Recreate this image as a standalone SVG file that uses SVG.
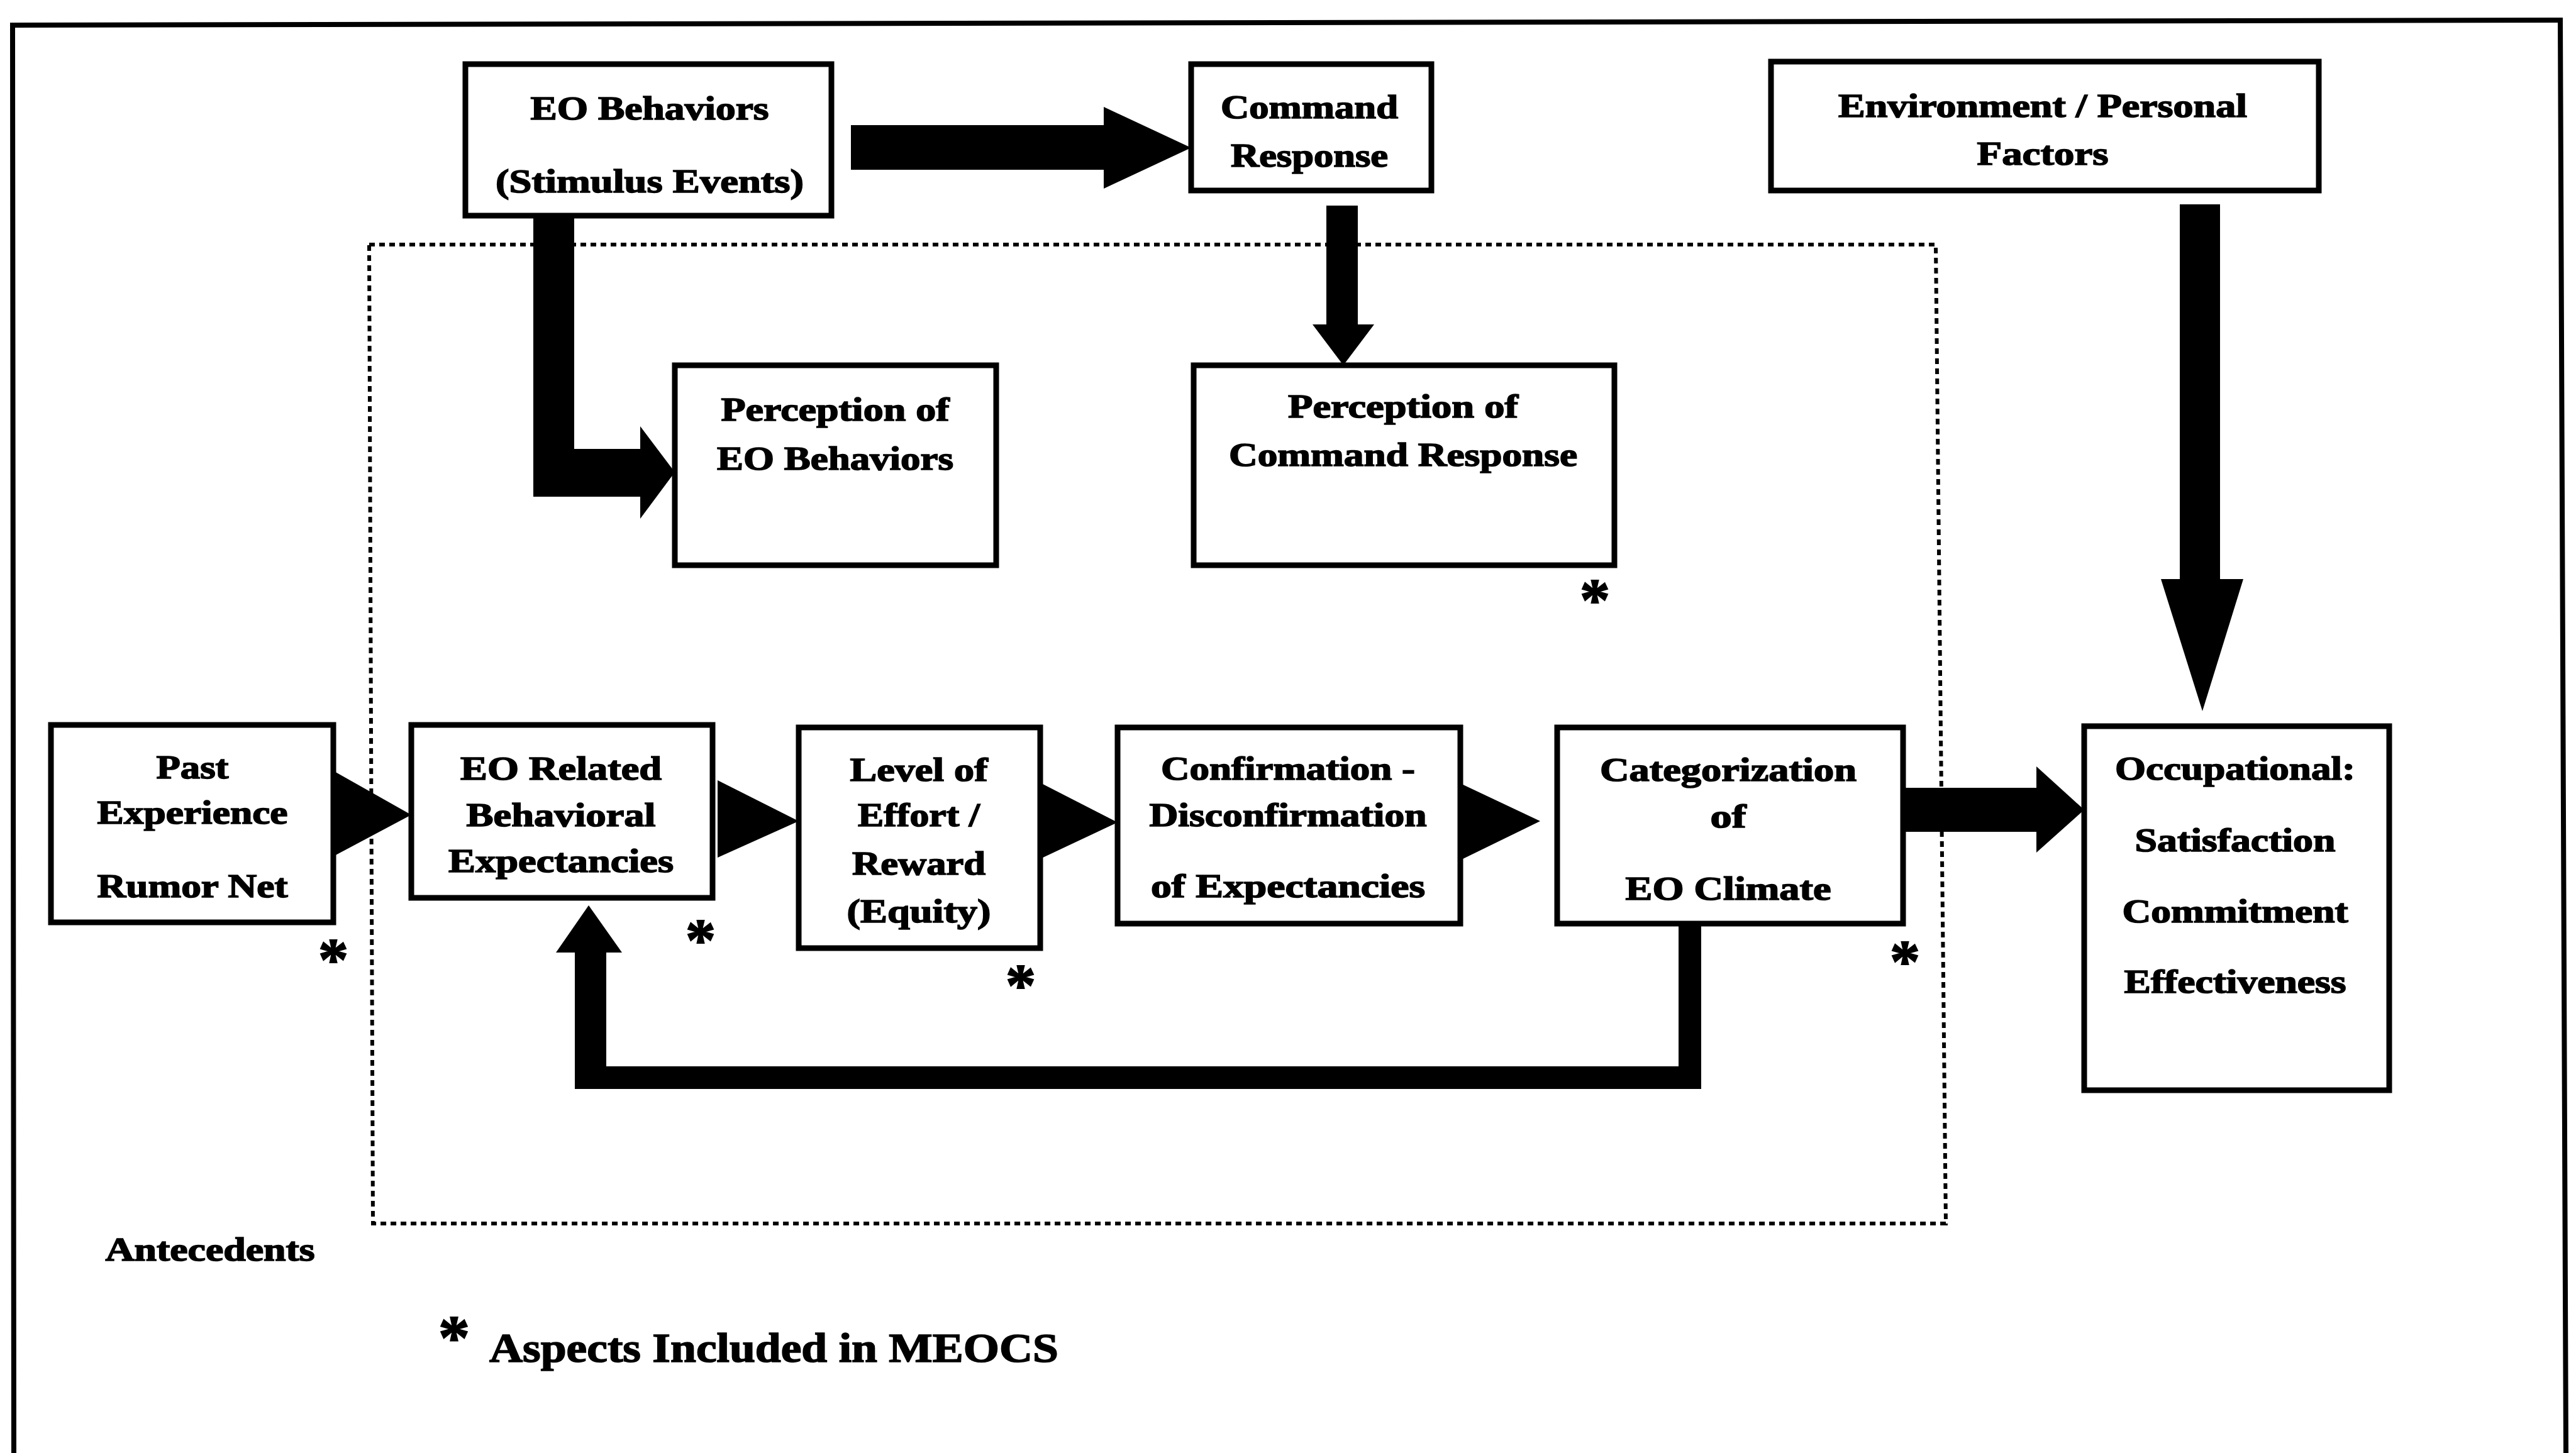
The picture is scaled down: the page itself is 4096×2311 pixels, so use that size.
<svg xmlns="http://www.w3.org/2000/svg" width="4096" height="2311" viewBox="0 0 4096 2311">
  <style>
    .box { fill: #fff; stroke: #000; stroke-width: 9; }
    .lbl { font-family: "Liberation Serif", "Times New Roman", serif; font-weight: bold; font-size: 52px; fill: #000; stroke: #000; stroke-width: 1.6; text-anchor: middle; }
    .star { font-family: "Liberation Serif", "Times New Roman", serif; font-weight: bold; font-size: 96px; fill: #000; stroke: #000; stroke-width: 2; text-anchor: middle; }
    .arrow { fill: #000; stroke: none; }
  </style>
  <rect width="4096" height="2311" fill="#fff"/>

  <!-- page frame (open at the bottom) -->
  <path d="M 22 2311 L 20 40 L 4071 32 L 4080 2311" fill="none" stroke="#000" stroke-width="8"/>

  <!-- dotted boundary of the perception process -->
  <polygon id="process-boundary" points="587,389 3078,389 3094,1946 593,1946" fill="none" stroke="#000" stroke-width="6" stroke-dasharray="9 7"/>

  <g id="connectors">
    <!-- EO Behaviors -> Command Response -->
    <polygon class="arrow" points="1353,199 1755,199 1755,170 1894,235 1755,300 1755,270 1353,270"/>
    <!-- EO Behaviors -> Perception of EO Behaviors -->
    <polygon class="arrow" points="848,343 913,343 913,714 1018,714 1018,678 1073,751 1018,825 1018,790 848,790"/>
    <!-- Command Response -> Perception of Command Response -->
    <polygon class="arrow" points="2109,327 2159,327 2159,516 2185,516 2136,581 2087,516 2109,516"/>
    <!-- Environment / Personal Factors -> Occupational -->
    <polygon class="arrow" points="3466,325 3530,325 3530,921 3567,921 3502,1131 3436,921 3466,921"/>
    <!-- Categorization -> Occupational -->
    <polygon class="arrow" points="3026,1253 3238,1253 3238,1219 3314,1288 3238,1356 3238,1323 3026,1323"/>
    <!-- chain triangles -->
    <polygon class="arrow" points="530,1226 654,1296 530,1362"/>
    <polygon class="arrow" points="1141,1241 1270,1306 1141,1364"/>
    <polygon class="arrow" points="1656,1246 1777,1308 1656,1365"/>
    <polygon class="arrow" points="2322,1246 2449,1306 2322,1368"/>
    <!-- feedback: Categorization -> EO Related Behavioral Expectancies -->
    <polygon class="arrow" points="2669,1469 2705,1469 2705,1732 914,1732 914,1515 884,1515 936,1440 989,1515 964,1515 964,1696 2669,1696"/>
  </g>

  <g id="eo-behaviors">
    <rect class="box" x="740" y="102" width="582" height="241"/>
    <text class="lbl" x="1033" y="190" textLength="379" lengthAdjust="spacingAndGlyphs">EO Behaviors</text>
    <text class="lbl" x="1033" y="306" textLength="490" lengthAdjust="spacingAndGlyphs">(Stimulus Events)</text>
  </g>

  <g id="command-response">
    <rect class="box" x="1894" y="102" width="382" height="201"/>
    <text class="lbl" x="2082" y="188" textLength="282" lengthAdjust="spacingAndGlyphs">Command</text>
    <text class="lbl" x="2082" y="265" textLength="250" lengthAdjust="spacingAndGlyphs">Response</text>
  </g>

  <g id="environment-personal">
    <rect class="box" x="2816" y="98" width="871" height="205"/>
    <text class="lbl" x="3248" y="186" textLength="650" lengthAdjust="spacingAndGlyphs">Environment / Personal</text>
    <text class="lbl" x="3248" y="262" textLength="209" lengthAdjust="spacingAndGlyphs">Factors</text>
  </g>

  <g id="perception-eo-behaviors">
    <rect class="box" x="1073" y="581" width="511" height="318"/>
    <text class="lbl" x="1328" y="669" textLength="363" lengthAdjust="spacingAndGlyphs">Perception of</text>
    <text class="lbl" x="1328" y="747" textLength="376" lengthAdjust="spacingAndGlyphs">EO Behaviors</text>
  </g>

  <g id="perception-command-response">
    <rect class="box" x="1898" y="581" width="669" height="318"/>
    <text class="lbl" x="2231" y="664" textLength="366" lengthAdjust="spacingAndGlyphs">Perception of</text>
    <text class="lbl" x="2231" y="741" textLength="554" lengthAdjust="spacingAndGlyphs">Command Response</text>
    <text class="star" x="2536" y="986">*</text>
  </g>

  <g id="past-experience">
    <rect class="box" x="81" y="1153" width="449" height="314"/>
    <text class="lbl" x="306" y="1238" textLength="115" lengthAdjust="spacingAndGlyphs">Past</text>
    <text class="lbl" x="306" y="1310" textLength="303" lengthAdjust="spacingAndGlyphs">Experience</text>
    <text class="lbl" x="306" y="1427" textLength="303" lengthAdjust="spacingAndGlyphs">Rumor Net</text>
    <text class="star" x="530" y="1558">*</text>
  </g>

  <g id="eo-related-expectancies">
    <rect class="box" x="654" y="1153" width="479" height="275"/>
    <text class="lbl" x="892" y="1240" textLength="320" lengthAdjust="spacingAndGlyphs">EO Related</text>
    <text class="lbl" x="892" y="1314" textLength="301" lengthAdjust="spacingAndGlyphs">Behavioral</text>
    <text class="lbl" x="892" y="1387" textLength="358" lengthAdjust="spacingAndGlyphs">Expectancies</text>
    <text class="star" x="1114" y="1527">*</text>
  </g>

  <g id="level-of-effort">
    <rect class="box" x="1270" y="1157" width="384" height="351"/>
    <text class="lbl" x="1461" y="1242" textLength="219" lengthAdjust="spacingAndGlyphs">Level of</text>
    <text class="lbl" x="1461" y="1314" textLength="194" lengthAdjust="spacingAndGlyphs">Effort /</text>
    <text class="lbl" x="1461" y="1391" textLength="212" lengthAdjust="spacingAndGlyphs">Reward</text>
    <text class="lbl" x="1461" y="1467" textLength="229" lengthAdjust="spacingAndGlyphs">(Equity)</text>
    <text class="star" x="1623" y="1599">*</text>
  </g>

  <g id="confirmation">
    <rect class="box" x="1777" y="1157" width="545" height="312"/>
    <text class="lbl" x="2048" y="1240" textLength="404" lengthAdjust="spacingAndGlyphs">Confirmation -</text>
    <text class="lbl" x="2048" y="1314" textLength="441" lengthAdjust="spacingAndGlyphs">Disconfirmation</text>
    <text class="lbl" x="2048" y="1427" textLength="436" lengthAdjust="spacingAndGlyphs">of  Expectancies</text>
  </g>

  <g id="categorization">
    <rect class="box" x="2476" y="1157" width="550" height="312"/>
    <text class="lbl" x="2748" y="1242" textLength="408" lengthAdjust="spacingAndGlyphs">Categorization</text>
    <text class="lbl" x="2748" y="1316" textLength="57" lengthAdjust="spacingAndGlyphs">of</text>
    <text class="lbl" x="2748" y="1431" textLength="327" lengthAdjust="spacingAndGlyphs">EO Climate</text>
    <text class="star" x="3029" y="1561">*</text>
  </g>

  <g id="occupational">
    <rect class="box" x="3314" y="1155" width="485" height="579"/>
    <text class="lbl" x="3554" y="1240" textLength="382" lengthAdjust="spacingAndGlyphs">Occupational:</text>
    <text class="lbl" x="3554" y="1354" textLength="319" lengthAdjust="spacingAndGlyphs">Satisfaction</text>
    <text class="lbl" x="3554" y="1467" textLength="359" lengthAdjust="spacingAndGlyphs">Commitment</text>
    <text class="lbl" x="3554" y="1579" textLength="353" lengthAdjust="spacingAndGlyphs">Effectiveness</text>
  </g>

  <g id="legend">
    <text class="lbl" x="334" y="2005" textLength="333" lengthAdjust="spacingAndGlyphs">Antecedents</text>
    <text class="star" x="722" y="2160" style="font-size:100px">*</text>
    <text class="lbl" x="778" y="2166" style="text-anchor:start;font-size:66px" textLength="905" lengthAdjust="spacingAndGlyphs">Aspects Included in MEOCS</text>
  </g>
</svg>
